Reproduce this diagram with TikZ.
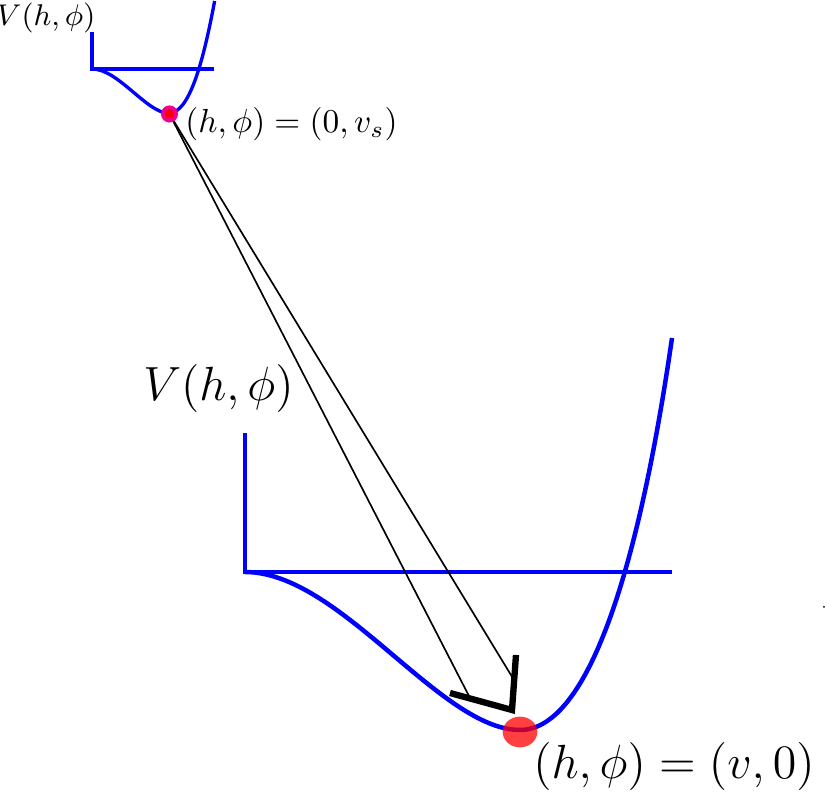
\documentclass[tikz,border=0pt]{standalone}
\usepackage{amssymb}
\usepackage{tikz}
\usetikzlibrary{positioning,shapes.geometric}

\begin{document}
\begin{tikzpicture}[
	x=0.3pt, y=0.3pt
	,every node/.append style={inner sep=0pt}
	,pot/.style={draw=blue, line width=#1}
	,path/.style={draw=black, line width=0.5pt}
	,tip/.style={draw=black, line width=1.9pt}
	,vs/.style={circle, draw=magenta, fill=red, line width=1.2pt, minimum size=3.9pt}
	,vev/.style={ellipse, fill=red, opacity=0.75, minimum width=10.4pt, minimum height=9.2pt}
]
	\useasboundingbox (0,0) rectangle (825,794);
	% small potential (symmetric phase)
	\begin{scope}[shift={(92,725)}, scale=0.28]
		\draw [pot=1pt] (0,132) -- (0,0) -- (435,0);
		\draw [pot=1pt] (0,0) .. controls (95,0) and (195,-158) .. (275,-158)
			.. controls (345,-158) and (395,12) .. (438,243);
	\end{scope}
	% large potential (broken phase)
	\begin{scope}[shift={(245,222)}]
		\draw [pot=1.35pt] (0,139) -- (0,0) -- (427,0);
		\draw [pot=1.35pt] (0,0) .. controls (95,0) and (195,-158) .. (275,-158)
			.. controls (345,-158) and (395,12) .. (427,234);
	\end{scope}
	\coordinate (S) at (169.5,680);
	\coordinate (tipL) at (450,101);
	\coordinate (tipC) at (512,84);
	\coordinate (tipR) at (516,139);
	\coordinate (endL) at (470,96);
	\coordinate (endR) at (514,114);
	\draw [path] (S) -- (endL);
	\draw [path] (S) -- (endR);
	\draw [tip] (tipL) -- (tipC) -- (tipR);
	\node [vs] (Sdot) at (S) {};
	\node [vev] (Bdot) at (520,62) {};
	\node [font=\fontsize{9}{10}\selectfont] (Vsmall) at (46,776) {$V(h,\phi)$};
	\node [font=\fontsize{9.6}{11}\selectfont] (Slabel) at (291.5,670) {$(h,\phi)=(0,v_s)$};
	\node [font=\Large] (Vbig) at (218.5,405.5) {$V(h,\phi)$};
	\node [font=\Large] (Blabel) at (674,27.5) {$(h,\phi)=(v,0)$};
	\fill (824,187) circle (1);
\end{tikzpicture}
\end{document}
